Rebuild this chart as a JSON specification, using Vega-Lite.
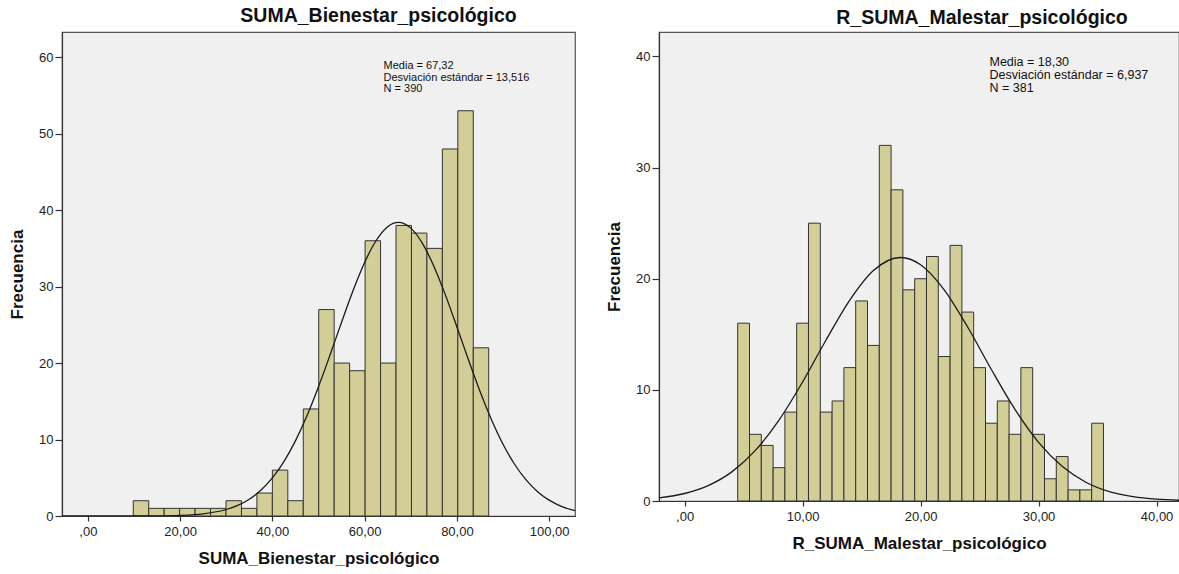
{
  "$schema": "https://vega.github.io/schema/vega-lite/v6.json",
  "background": "white",
  "padding": {"left": 7, "top": 4, "right": 0, "bottom": 0},
  "spacing": 28,
  "config": {
    "font": "Liberation Sans",
    "view": {"fill": "#f0f0f0", "stroke": "#555555", "strokeWidth": 1.2},
    "axis": {
      "grid": false,
      "domainColor": "#333333",
      "domainWidth": 1.2,
      "tickColor": "#333333",
      "tickWidth": 1.2,
      "labelFont": "Liberation Sans",
      "labelFontSize": 13,
      "labelColor": "#222222",
      "titleFont": "Liberation Sans",
      "titleFontSize": 17,
      "titleFontWeight": "bold",
      "titleColor": "#111111"
    },
    "axisX": {"tickSize": 5, "labelPadding": 4, "titlePadding": 12},
    "axisY": {"tickSize": 7, "labelPadding": 2, "titlePadding": 12},
    "title": {"font": "Liberation Sans", "fontSize": 19.5, "fontWeight": "bold", "color": "#111111"}
  },
  "datasets": {
    "left_bins": [
      {"bin_start": 9.85, "bin_end": 13.20, "count": 2},
      {"bin_start": 13.20, "bin_end": 16.55, "count": 1},
      {"bin_start": 16.55, "bin_end": 19.90, "count": 1},
      {"bin_start": 19.90, "bin_end": 23.25, "count": 1},
      {"bin_start": 23.25, "bin_end": 26.60, "count": 1},
      {"bin_start": 26.60, "bin_end": 29.95, "count": 1},
      {"bin_start": 29.95, "bin_end": 33.30, "count": 2},
      {"bin_start": 33.30, "bin_end": 36.65, "count": 1},
      {"bin_start": 36.65, "bin_end": 40.00, "count": 3},
      {"bin_start": 40.00, "bin_end": 43.35, "count": 6},
      {"bin_start": 43.35, "bin_end": 46.70, "count": 2},
      {"bin_start": 46.70, "bin_end": 50.05, "count": 14},
      {"bin_start": 50.05, "bin_end": 53.40, "count": 27},
      {"bin_start": 53.40, "bin_end": 56.75, "count": 20},
      {"bin_start": 56.75, "bin_end": 60.10, "count": 19},
      {"bin_start": 60.10, "bin_end": 63.45, "count": 36},
      {"bin_start": 63.45, "bin_end": 66.80, "count": 20},
      {"bin_start": 66.80, "bin_end": 70.15, "count": 38},
      {"bin_start": 70.15, "bin_end": 73.50, "count": 37},
      {"bin_start": 73.50, "bin_end": 76.85, "count": 35},
      {"bin_start": 76.85, "bin_end": 80.20, "count": 48},
      {"bin_start": 80.20, "bin_end": 83.55, "count": 53},
      {"bin_start": 83.55, "bin_end": 86.90, "count": 22}
    ],
    "left_curve": [
      {"x": -5.6, "y": 0}, {"x": 0, "y": 0.0002}, {"x": 5, "y": 0.001}, {"x": 10, "y": 0.005},
      {"x": 15, "y": 0.021}, {"x": 20, "y": 0.083}, {"x": 25, "y": 0.286}, {"x": 30, "y": 0.85},
      {"x": 32.5, "y": 1.39}, {"x": 35, "y": 2.2}, {"x": 37.5, "y": 3.37}, {"x": 40, "y": 4.98},
      {"x": 42.5, "y": 7.11}, {"x": 45, "y": 9.82}, {"x": 47.5, "y": 13.1}, {"x": 50, "y": 16.9},
      {"x": 52.5, "y": 21.05}, {"x": 55, "y": 25.35}, {"x": 57.5, "y": 29.5}, {"x": 60, "y": 33.16},
      {"x": 62.5, "y": 36.03}, {"x": 65, "y": 37.84}, {"x": 67.32, "y": 38.4}, {"x": 70, "y": 37.65},
      {"x": 72.5, "y": 35.68}, {"x": 75, "y": 32.67}, {"x": 77.5, "y": 28.92}, {"x": 80, "y": 24.73},
      {"x": 82.5, "y": 20.44}, {"x": 85, "y": 16.32}, {"x": 87.5, "y": 12.6}, {"x": 90, "y": 9.39},
      {"x": 92.5, "y": 6.77}, {"x": 95, "y": 4.72}, {"x": 97.5, "y": 3.18}, {"x": 100, "y": 2.07},
      {"x": 102.5, "y": 1.3}, {"x": 105, "y": 0.79}, {"x": 105.6, "y": 0.7}
    ],
    "left_stats": [{"stats": "Media = 67,32\nDesviación estándar = 13,516\nN = 390"}],
    "right_bins": [
      {"bin_start": 4.5, "bin_end": 5.5, "count": 16},
      {"bin_start": 5.5, "bin_end": 6.5, "count": 6},
      {"bin_start": 6.5, "bin_end": 7.5, "count": 5},
      {"bin_start": 7.5, "bin_end": 8.5, "count": 3},
      {"bin_start": 8.5, "bin_end": 9.5, "count": 8},
      {"bin_start": 9.5, "bin_end": 10.5, "count": 16},
      {"bin_start": 10.5, "bin_end": 11.5, "count": 25},
      {"bin_start": 11.5, "bin_end": 12.5, "count": 8},
      {"bin_start": 12.5, "bin_end": 13.5, "count": 9},
      {"bin_start": 13.5, "bin_end": 14.5, "count": 12},
      {"bin_start": 14.5, "bin_end": 15.5, "count": 18},
      {"bin_start": 15.5, "bin_end": 16.5, "count": 14},
      {"bin_start": 16.5, "bin_end": 17.5, "count": 32},
      {"bin_start": 17.5, "bin_end": 18.5, "count": 28},
      {"bin_start": 18.5, "bin_end": 19.5, "count": 19},
      {"bin_start": 19.5, "bin_end": 20.5, "count": 20},
      {"bin_start": 20.5, "bin_end": 21.5, "count": 22},
      {"bin_start": 21.5, "bin_end": 22.5, "count": 13},
      {"bin_start": 22.5, "bin_end": 23.5, "count": 23},
      {"bin_start": 23.5, "bin_end": 24.5, "count": 17},
      {"bin_start": 24.5, "bin_end": 25.5, "count": 12},
      {"bin_start": 25.5, "bin_end": 26.5, "count": 7},
      {"bin_start": 26.5, "bin_end": 27.5, "count": 9},
      {"bin_start": 27.5, "bin_end": 28.5, "count": 6},
      {"bin_start": 28.5, "bin_end": 29.5, "count": 12},
      {"bin_start": 29.5, "bin_end": 30.5, "count": 6},
      {"bin_start": 30.5, "bin_end": 31.5, "count": 2},
      {"bin_start": 31.5, "bin_end": 32.5, "count": 4},
      {"bin_start": 32.5, "bin_end": 33.5, "count": 1},
      {"bin_start": 33.5, "bin_end": 34.5, "count": 1},
      {"bin_start": 34.5, "bin_end": 35.5, "count": 7}
    ],
    "right_curve": [
      {"x": -2.17, "y": 0.28}, {"x": 0, "y": 0.675}, {"x": 2, "y": 1.385}, {"x": 4, "y": 2.62},
      {"x": 6, "y": 4.55}, {"x": 8, "y": 7.28}, {"x": 10, "y": 10.71}, {"x": 12, "y": 14.51},
      {"x": 14, "y": 18.08}, {"x": 16, "y": 20.74}, {"x": 18.3, "y": 21.91}, {"x": 20, "y": 21.26},
      {"x": 22, "y": 19.0}, {"x": 24, "y": 15.63}, {"x": 26, "y": 11.83}, {"x": 28, "y": 8.24},
      {"x": 30, "y": 5.28}, {"x": 32, "y": 3.12}, {"x": 34, "y": 1.69}, {"x": 36, "y": 0.84},
      {"x": 38, "y": 0.39}, {"x": 40, "y": 0.16}, {"x": 41.9, "y": 0.067}
    ],
    "right_stats": [{"stats": "Media = 18,30\nDesviación estándar = 6,937\nN = 381"}]
  },
  "hconcat": [
    {
      "width": 513,
      "height": 484,
      "title": {"text": "SUMA_Bienestar_psicológico", "anchor": "middle", "dx": 60, "offset": 6},
      "layer": [
        {
          "data": {"name": "left_bins"},
          "mark": {"type": "rect", "fill": "#d3ce97", "stroke": "#333333", "strokeWidth": 1},
          "encoding": {
            "x": {"field": "bin_start", "type": "quantitative",
                  "scale": {"domain": [-5.6, 105.6], "nice": false, "zero": false},
                  "axis": {"title": "SUMA_Bienestar_psicológico", "values": [0, 20, 40, 60, 80, 100],
                           "labelExpr": "datum.value == 0 ? ',00' : replace(format(datum.value, '.2f'), '.', ',')"}},
            "x2": {"field": "bin_end"},
            "y": {"field": "count", "type": "quantitative",
                  "scale": {"domain": [0, 63.3], "nice": false},
                  "axis": {"title": "Frecuencia", "values": [0, 10, 20, 30, 40, 50, 60]}},
            "y2": {"datum": 0}
          }
        },
        {
          "data": {"name": "left_curve"},
          "mark": {"type": "line", "color": "#1a1a1a", "strokeWidth": 1.3, "interpolate": "monotone", "clip": true},
          "encoding": {
            "x": {"field": "x", "type": "quantitative"},
            "y": {"field": "y", "type": "quantitative"}
          }
        },
        {
          "data": {"name": "left_stats"},
          "mark": {"type": "text", "align": "left", "baseline": "top", "lineBreak": "\n", "fontSize": 11, "lineHeight": 11.5, "color": "#111111", "font": "Liberation Sans"},
          "encoding": {
            "x": {"datum": 64.1, "type": "quantitative"},
            "y": {"datum": 59.6, "type": "quantitative"},
            "text": {"field": "stats"}
          }
        }
      ]
    },
    {
      "width": 520,
      "height": 469,
      "title": {"text": "R_SUMA_Malestar_psicológico", "anchor": "middle", "dx": 63, "offset": 4},
      "layer": [
        {
          "data": {"name": "right_bins"},
          "mark": {"type": "rect", "fill": "#d3ce97", "stroke": "#333333", "strokeWidth": 1},
          "encoding": {
            "x": {"field": "bin_start", "type": "quantitative",
                  "scale": {"domain": [-2.17, 41.9], "nice": false, "zero": false},
                  "axis": {"title": "R_SUMA_Malestar_psicológico", "values": [0, 10, 20, 30, 40],
                           "labelExpr": "datum.value == 0 ? ',00' : replace(format(datum.value, '.2f'), '.', ',')"}},
            "x2": {"field": "bin_end"},
            "y": {"field": "count", "type": "quantitative",
                  "scale": {"domain": [0, 42.2], "nice": false},
                  "axis": {"title": "Frecuencia", "values": [0, 10, 20, 30, 40]}},
            "y2": {"datum": 0}
          }
        },
        {
          "data": {"name": "right_curve"},
          "mark": {"type": "line", "color": "#1a1a1a", "strokeWidth": 1.3, "interpolate": "monotone", "clip": true},
          "encoding": {
            "x": {"field": "x", "type": "quantitative"},
            "y": {"field": "y", "type": "quantitative"}
          }
        },
        {
          "data": {"name": "right_stats"},
          "mark": {"type": "text", "align": "left", "baseline": "top", "lineBreak": "\n", "fontSize": 12.5, "lineHeight": 13, "color": "#111111", "font": "Liberation Sans"},
          "encoding": {
            "x": {"datum": 25.84, "type": "quantitative"},
            "y": {"datum": 40.0, "type": "quantitative"},
            "text": {"field": "stats"}
          }
        }
      ]
    }
  ]
}
